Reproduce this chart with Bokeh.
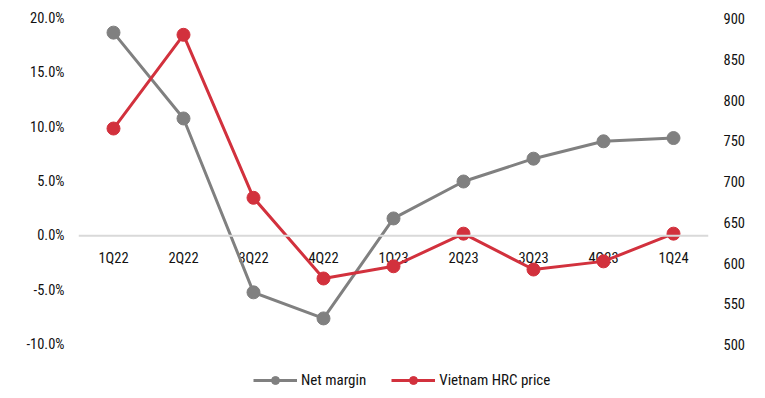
from bokeh.plotting import figure
from bokeh.models import (Range1d, LinearAxis, FixedTicker, PrintfTickFormatter,
                          Legend, LegendItem, ColumnDataSource, FactorRange, Span)
from bokeh.core.properties import value
from bokeh.embed import file_html
from bokeh.resources import INLINE

quarters = ["1Q22", "2Q22", "3Q22", "4Q22", "1Q23", "2Q23", "3Q23", "4Q23", "1Q24"]
net_margin = [18.7, 10.8, -5.2, -7.6, 1.6, 5.0, 7.1, 8.7, 9.0]
hrc_price = [765, 880, 680, 581, 596, 636, 592, 602, 636]
left_ticks = [-10, -5, 0, 5, 10, 15, 20]
right_ticks = [500, 550, 600, 650, 700, 750, 800, 850, 900]

FONT = "'Arial Narrow', 'Roboto Condensed', sans-serif"
FS = "14.5px"
GRAY = "#808080"
RED = "#d2313d"

# layout: the value axes span 326px (-10%..20% / 500..900); frame extends below to hold the legend
W, H = 749, 392
TOP, LEFT, RIGHT = 18, 78, 41
axis_px = 326.0
frame_h = H - TOP
px_per_unit = axis_px / (left_ticks[-1] - left_ticks[0])
left_lo = left_ticks[-1] - frame_h / px_per_unit
r_per_l = (right_ticks[-1] - right_ticks[0]) / (left_ticks[-1] - left_ticks[0])
right_lo = right_ticks[-1] - (left_ticks[-1] - left_lo) * r_per_l

src = ColumnDataSource(dict(q=quarters, nm=net_margin, hrc=hrc_price, zero=[0] * len(quarters)))

p = figure(width=W, height=H, x_range=FactorRange(*quarters),
           y_range=Range1d(left_lo, left_ticks[-1]), output_backend="svg", toolbar_location=None,
           min_border_left=LEFT, min_border_right=RIGHT, min_border_top=TOP, min_border_bottom=0)
p.extra_y_ranges = {"hrc": Range1d(right_lo, right_ticks[-1])}
p.outline_line_color = None
p.xgrid.grid_line_color = None
p.ygrid.grid_line_color = None
p.xaxis.visible = False

# left axis
la = p.yaxis[0]
la.ticker = FixedTicker(ticks=left_ticks)
la.formatter = PrintfTickFormatter(format="%.1f%%")
la.axis_line_color = None
la.major_tick_line_color = None
la.minor_tick_line_color = None
la.major_tick_out = 0
la.minor_tick_out = 0
la.major_label_text_font = FONT
la.major_label_text_font_size = FS
la.major_label_text_color = "#111111"
la.major_label_standoff = 14

# right axis
ra = LinearAxis(y_range_name="hrc")
ra.ticker = FixedTicker(ticks=right_ticks)
ra.axis_line_color = None
ra.major_tick_line_color = None
ra.minor_tick_line_color = None
ra.major_tick_out = 0
ra.minor_tick_out = 0
ra.major_label_text_font = FONT
ra.major_label_text_font_size = FS
ra.major_label_text_color = "#111111"
ra.major_label_standoff = 15
p.add_layout(ra, "right")

# zero line and category labels
p.add_layout(Span(location=0, dimension="width", line_color="#d9d9d9", line_width=2))
p.text("q", "zero", text="q", source=src, text_font=value(FONT), text_font_size=FS,
       text_color="#111111", text_align="center", text_baseline="top", y_offset=14)

l1 = p.line("q", "nm", source=src, line_color=GRAY, line_width=3)
s1 = p.scatter("q", "nm", source=src, size=13, fill_color=GRAY, line_color=GRAY)
l2 = p.line("q", "hrc", source=src, line_color=RED, line_width=3, y_range_name="hrc")
s2 = p.scatter("q", "hrc", source=src, size=13, fill_color=RED, line_color=RED, y_range_name="hrc")

legend = Legend(items=[LegendItem(label="Net margin", renderers=[l1, s1]),
                       LegendItem(label="Vietnam HRC price", renderers=[l2, s2])],
                orientation="horizontal", location=(175, 2),
                label_text_font=FONT, label_text_font_size="15px", label_text_color="#111111",
                label_standoff=4, glyph_width=44, glyph_height=20, label_height=20,
                border_line_color=None, background_fill_alpha=0,
                spacing=25, padding=0, margin=0)
p.add_layout(legend)

open("out.html", "w").write(file_html(p, INLINE))
